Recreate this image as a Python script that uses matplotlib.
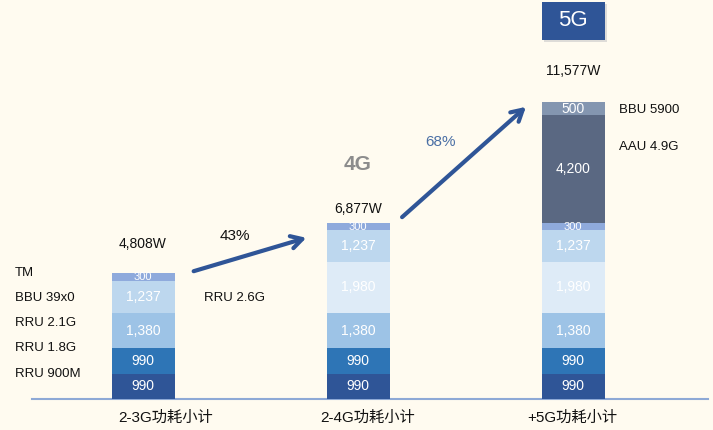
import matplotlib
matplotlib.use("Agg")
import matplotlib.pyplot as plt
from matplotlib.patches import FancyBboxPatch
import numpy as np

plt.rcParams['font.family'] = ['Liberation Sans', 'Noto Sans CJK SC', 'DejaVu Sans']

# ---- data ----
categories = ["2-3G功耗小计", "2-4G功耗小计", "+5G功耗小计"]
segment_names = ["RRU 900M", "RRU 1.8G", "RRU 2.1G", "RRU 2.6G", "BBU 39x0", "TM", "AAU 4.9G", "BBU 5900"]
rru900 = [990, 990, 990]
rru18 = [990, 990, 990]
rru21 = [1380, 1380, 1380]
rru26 = [0, 1980, 1980]
bbu39 = [1237, 1237, 1237]
tm = [300, 300, 300]
aau49 = [0, 0, 4200]
bbu5900 = [0, 0, 500]
total_labels = ["4,808W", "6,877W", "11,577W"]
growth_labels = ["43%", "68%"]

series = [rru900, rru18, rru21, rru26, bbu39, tm, aau49, bbu5900]
colors = ["#2F5597", "#2E75B6", "#9DC3E6", "#DEEBF7", "#BDD7EE", "#8FAADC", "#5A6882", "#8496B0"]

BG = "#FFFBF0"
W, H = 713, 430
fig = plt.figure(figsize=(W / 100, H / 100), dpi=100, facecolor=BG)
ax = fig.add_axes([0, 0, 1, 1], facecolor=BG)

# axis geometry: bar centres 215 px apart, baseline 31 px above the bottom
px_per_cat = 215.0
w_per_px = 39.0
x0_px, base_px = 143, 31
ax.set_xlim(-x0_px / px_per_cat, (W - x0_px) / px_per_cat)
ax.set_ylim(-base_px * w_per_px, (H - base_px) * w_per_px)
ax.axis("off")

x = np.arange(len(categories))
bottom = np.zeros(len(categories))
for vals, col in zip(series, colors):
    vals = np.array(vals, dtype=float)
    ax.bar(x, vals, bottom=bottom, width=63 / px_per_cat, color=col, edgecolor="none", zorder=2)
    for xi, v, b in zip(x, vals, bottom):
        if v > 0:
            fs = 8 if v < 400 else 10
            ax.text(xi, b + v / 2, f"{int(v):,}", ha="center", va="center",
                    color="white", fontsize=fs, zorder=3)
    bottom += vals

# baseline
ax.plot([(32 - x0_px) / px_per_cat, (708 - x0_px) / px_per_cat], [0, 0],
        color="#8EA9D6", lw=1.5, zorder=1)


def fpx(px, py):
    """figure-fraction coordinates from pixel position measured from the top-left"""
    return px / W, 1 - py / H


# category labels
for cx, lab in zip([166, 368, 572], categories):
    fig.text(*fpx(cx, 418), lab, ha="center", va="center", fontsize=11, color="#111111")

# totals above bars
for (tx, ty), lab in zip([(143, 244), (358, 209), (573, 71)], total_labels):
    fig.text(*fpx(tx, ty), lab, ha="center", va="center", fontsize=10, color="#111111")

# left-side legend labels for the first column
for name, ty in zip(["TM", "BBU 39x0", "RRU 2.1G", "RRU 1.8G", "RRU 900M"],
                    [273, 298, 323, 348, 374]):
    fig.text(*fpx(15, ty), name, ha="left", va="center", fontsize=9.5, color="#111111")

fig.text(*fpx(204, 298), "RRU 2.6G", ha="left", va="center", fontsize=9.5, color="#111111")
fig.text(*fpx(619, 110), "BBU 5900", ha="left", va="center", fontsize=9.5, color="#111111")
fig.text(*fpx(619, 147), "AAU 4.9G", ha="left", va="center", fontsize=9.5, color="#111111")

# growth arrows
arrow_kw = dict(arrowstyle="->,head_length=0.8,head_width=0.45", color="#2F5597", lw=3)
ax.annotate("", xy=fpx(309, 237), xytext=fpx(191, 272),
            xycoords="figure fraction", textcoords="figure fraction", arrowprops=arrow_kw)
ax.annotate("", xy=fpx(528, 105), xytext=fpx(400, 219),
            xycoords="figure fraction", textcoords="figure fraction", arrowprops=arrow_kw)
fig.text(*fpx(235, 236), growth_labels[0], ha="center", va="center", fontsize=11, color="#111111")
fig.text(*fpx(440, 142), growth_labels[1], ha="center", va="center", fontsize=11, color="#4A6FA5")

# generation tags
fig.text(*fpx(358, 165), "4G", ha="center", va="center", fontsize=15, fontweight="bold", color="#8C8C8C")
shadow = FancyBboxPatch(fpx(544, 42), 63 / W, 38 / H, boxstyle="square,pad=0",
                        transform=fig.transFigure, facecolor="#C8C8C8", edgecolor="none", alpha=0.6)
box = FancyBboxPatch(fpx(542, 40), 63 / W, 38 / H, boxstyle="square,pad=0",
                     transform=fig.transFigure, facecolor="#2F5597", edgecolor="none")
fig.patches.extend([shadow, box])
fig.text(*fpx(573, 21), "5G", ha="center", va="center", fontsize=16, color="white")

fig.savefig("out.png", dpi=100, facecolor=BG)
